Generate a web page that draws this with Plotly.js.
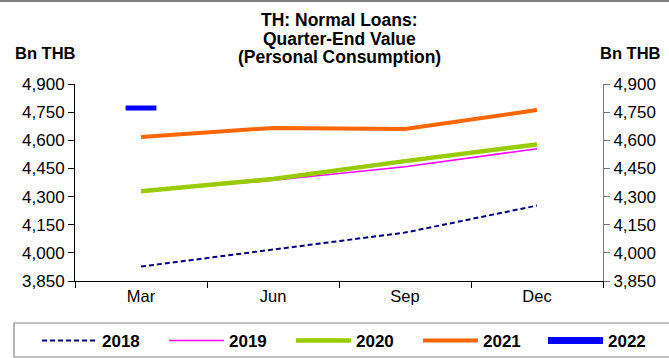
<!DOCTYPE html>
<html>
<head>
<meta charset="utf-8">
<script src="https://cdn.plot.ly/plotly-3.0.1.min.js"></script>
<style>html,body{margin:0;padding:0;background:#fff;}#chart{width:669px;height:358px;}</style>
</head>
<body>
<div id="chart"></div>
<script>
const categories = ["Mar", "Jun", "Sep", "Dec"];
const s2018 = [3927, 4018, 4108, 4252];
const s2019 = [4328, 4387, 4459, 4555];
const s2020 = [4328, 4394, 4489, 4578];
const s2021 = [4618, 4666, 4660, 4761];
const s2022 = [4772];
const seriesNames = ["2018", "2019", "2020", "2021", "2022"];
const yTicks = [3850, 4000, 4150, 4300, 4450, 4600, 4750, 4900];
const titleLines = ["TH: Normal Loans:", "Quarter-End Value", "(Personal Consumption)"];
const unitLabel = "Bn THB";

const FONT = "Liberation Sans, Arial, sans-serif";

const traces = [
  {x: categories, y: s2018, name: seriesNames[0], type: "scatter", mode: "lines",
   line: {color: "#000080", width: 2, dash: "5px,3px"}},
  {x: categories, y: s2019, name: seriesNames[1], type: "scatter", mode: "lines",
   line: {color: "#FF00FF", width: 1.6}},
  {x: categories, y: s2020, name: seriesNames[2], type: "scatter", mode: "lines",
   line: {color: "#99CC00", width: 4.5}},
  {x: categories, y: s2021, name: seriesNames[3], type: "scatter", mode: "lines",
   line: {color: "#FF6600", width: 4}},
  {x: categories.slice(0, s2022.length), y: s2022, name: seriesNames[4], type: "scatter", mode: "lines+markers",
   legend: "legend2",
   line: {color: "#0000FF", width: 7},
   marker: {symbol: "line-ew", size: 22, color: "#0000FF", line: {color: "#0000FF", width: 5}}},
  {x: categories, y: s2018, yaxis: "y2", type: "scatter", mode: "lines", showlegend: false,
   hoverinfo: "skip", line: {color: "rgba(0,0,0,0)", width: 0}}
];

const pxX = px => (px - 75) / 528;
const pxY = py => (281 - py) / 197;

const titleY = [20, 38.5, 57];
const annotations = titleLines.map((t, i) => ({
  text: "<b>" + t + "</b>", xref: "paper", yref: "paper", x: 0.5, y: pxY(titleY[i]), showarrow: false,
  xanchor: "center", yanchor: "middle", font: {family: FONT, size: 17.5, color: "#000"}
}));
annotations.push(
  {text: "<b>" + unitLabel + "</b>", xref: "paper", yref: "paper", x: pxX(45.5), y: pxY(53), showarrow: false,
   xanchor: "center", yanchor: "middle", font: {family: FONT, size: 16.5}},
  {text: "<b>" + unitLabel + "</b>", xref: "paper", yref: "paper", x: pxX(630), y: pxY(53), showarrow: false,
   xanchor: "center", yanchor: "middle", font: {family: FONT, size: 16.5}}
);

const legendCommon = {orientation: "h", xref: "container", yref: "container", y: 1 - 323/358,
  xanchor: "left", yanchor: "top", bgcolor: "rgba(0,0,0,0)", borderwidth: 0,
  itemwidth: 55, entrywidth: 57, font: {family: FONT, size: 17, color: "#000", weight: "bold"},
  traceorder: "normal"};

const layout = {
  width: 669, height: 358,
  margin: {l: 75, r: 66, t: 84, b: 77, pad: 0, autoexpand: false},
  paper_bgcolor: "#ffffff", plot_bgcolor: "#ffffff",
  font: {family: FONT, color: "#000000", size: 16},
  showlegend: true,
  xaxis: {type: "category", showgrid: false, zeroline: false, showline: true, linecolor: "#000", linewidth: 1,
          ticks: "outside", tickson: "boundaries", ticklen: 6, tickcolor: "#000",
          tickfont: {family: FONT, size: 16.5}, range: [-0.5, 3.5]},
  yaxis: {range: [3850, 4900], tickvals: yTicks, tickformat: ",", showgrid: false, zeroline: false,
          showline: true, linecolor: "#000", linewidth: 1, ticks: "outside", ticklen: 6, tickcolor: "#000",
          tickfont: {family: FONT, size: 17}},
  yaxis2: {range: [3850, 4900], tickvals: yTicks, tickformat: ",", overlaying: "y", side: "right",
           showgrid: false, zeroline: false, showline: true, linecolor: "#777", linewidth: 1,
           ticks: "outside", ticklen: 6, tickcolor: "#777", tickfont: {family: FONT, size: 17}},
  legend: Object.assign({}, legendCommon, {x: 37/669}),
  legend2: Object.assign({}, legendCommon, {x: 543/669}),
  annotations: annotations,
  shapes: [
    {type: "rect", xref: "paper", yref: "paper", x0: pxX(14), x1: pxX(670), y0: pxY(323), y1: pxY(357),
     line: {color: "#888", width: 1.2}, fillcolor: "rgba(0,0,0,0)"},
    {type: "line", xref: "paper", yref: "paper", x0: pxX(0), x1: pxX(669), y0: pxY(1), y1: pxY(1),
     line: {color: "#555", width: 1.5}}
  ]
};

Plotly.newPlot("chart", traces, layout, {staticPlot: true, displayModeBar: false});
</script>
</body>
</html>
